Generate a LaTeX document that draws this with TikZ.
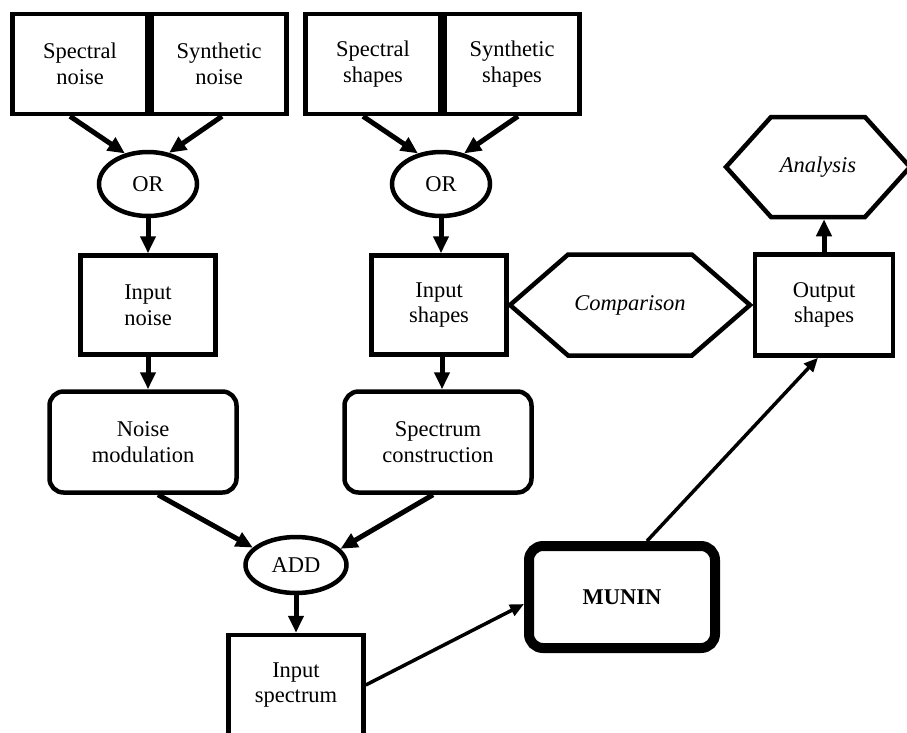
\documentclass[tikz,border=0pt]{standalone}
\usepackage{fontspec}
\setmainfont{Liberation Serif}
\usetikzlibrary{arrows.meta,shapes.geometric,shapes.symbols}
\newcommand{\diafont}{\fontsize{22.5}{25.5}\selectfont}

\begin{document}
\begin{tikzpicture}[x=1pt, y=-1pt, node distance={139pt}, line width=4.5pt, font=\diafont,
  box/.style = {draw, rectangle, align=center, inner sep=2pt},
  srcbox/.style = {box, minimum width=135pt, minimum height=100pt},
  midbox/.style = {box, minimum width=135pt, minimum height=99pt},
  procbox/.style = {box, rounded corners=14pt, minimum width=187pt, minimum height=101pt},
  oper/.style = {draw, ellipse, inner sep=1pt},
  hexa/.style = {draw, signal, signal to=west and east, font=\diafont\itshape, inner sep=2pt},
  arr/.style = {line width=5pt, -{Triangle[length=17pt, width=15pt]}},
  thinarr/.style = {line width=3.5pt, -{Triangle[length=14pt, width=12pt]}}]
\useasboundingbox (0,0) rectangle (907,732);
\node[srcbox] (sn) at (80,64) {Spectral\\noise};
\node[srcbox] (syn) [right of=sn] {Synthetic\\noise};
\node[srcbox] (ss) at (373,64) {Spectral\\shapes};
\node[srcbox] (sys) [right of=ss] {Synthetic\\shapes};
\node[oper, minimum width=98pt, minimum height=64pt] (or1) at (148,184) {OR};
\node[oper, minimum width=98pt, minimum height=64pt] (or2) at (441,184) {OR};
\node[midbox] (innoise) at (148,305) {Input\\noise};
\node[midbox] (inshp) at (439,305) {Input\\shapes};
\node[procbox] (nmod) at (143,442) {Noise\\modulation};
\node[procbox] (spcon) at (438,442) {Spectrum\\construction};
\node[oper, minimum width=101pt, minimum height=56pt] (add) at (296,565) {ADD};
\node[midbox, minimum height=100pt] (inspec) at (296,685) {Input\\spectrum};
\node[box, line width=10pt, rounded corners=14pt, minimum width=186pt, minimum height=102pt, font=\diafont\bfseries] (munin) at (622,597) {MUNIN};
\node[hexa, signal pointer angle=82, minimum width=240pt, minimum height=101pt] (comp) at (630,305) {Comparison};
\node[midbox, minimum width=138pt, minimum height=101pt] (outshp) at (824,305) {Output\\shapes};
\node[hexa, signal pointer angle=96, minimum width=184pt, minimum height=100pt] (anal) at (818,167) {Analysis};
\draw[arr] ([xshift=-10pt]sn.south) -- (or1.127);
\draw[arr] ([xshift=3pt]syn.south) -- (or1.56);
\draw[arr] ([xshift=-10pt]ss.south) -- (or2.127);
\draw[arr] ([xshift=6pt]sys.south) -- (or2.53);
\draw[arr] (or1.south) -- (or1.south |- innoise.north);
\draw[arr] (or2.south) -- (or2.south |- inshp.north);
\draw[arr] (innoise.south) -- (innoise.south |- nmod.north);
\draw[arr] ([xshift=3pt]inshp.south) -- ([xshift=3pt]inshp.south |- spcon.north);
\draw[arr] ([xshift=15pt]nmod.south) -- (add.158);
\draw[arr] ([xshift=-5pt]spcon.south) -- (add.20);
\draw[arr] (add.south) -- (inspec.north);
\draw[thinarr] (inspec.east) -- ([yshift=-7pt]munin.west);
\draw[thinarr] ([xshift=25pt]munin.north) -- ([xshift=-6pt]outshp.south);
\draw[arr] (outshp.north) -- (outshp.north |- anal.south);
\end{tikzpicture}
\end{document}
